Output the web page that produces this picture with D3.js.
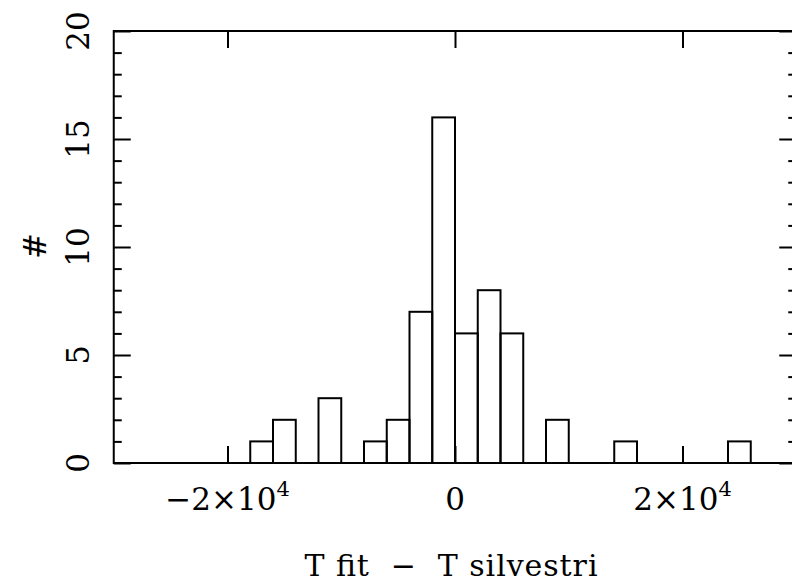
<!DOCTYPE html>
<html>
<head>
<meta charset="utf-8">
<script src="https://cdn.jsdelivr.net/npm/d3@7"></script>
<style>
  html, body { margin: 0; padding: 0; background: #fff; }
  svg { display: block; }
  text { font-family: "DejaVu Serif", "Liberation Serif", serif; fill: #000; }
  .axis path.domain { display: none; }
  .axis line { stroke: #000; stroke-width: 2; }
</style>
</head>
<body>
<script>
// Histogram of temperature differences (bin width 2000)
const binStarts = [-18000, -16000, -12000, -8000, -6000, -4000, -2000, 0, 2000, 4000, 8000, 14000, 24000];
const counts    = [1, 2, 3, 1, 2, 7, 16, 6, 8, 6, 2, 1, 1];
const binWidth = 2000;

const xMajorTicks = [-20000, 0, 20000];
const xTickLabels = [["\u22122\u00d710", "4"], ["0", null], ["2\u00d710", "4"]];
const yMajorTicks = [0, 5, 10, 15, 20];
const yMinorTicks = d3.range(0, 21).filter(v => v % 5 !== 0);

const W = 792, H = 583;
const svg = d3.select("body").append("svg").attr("width", W).attr("height", H);

const x = d3.scaleLinear().domain([-30000, 30000]).range([113.75, 796.25]);
const y = d3.scaleLinear().domain([0, 20]).range([463, 31]);

// bars
svg.append("g").selectAll("rect")
  .data(binStarts.map((s, i) => ({ s, c: counts[i] })))
  .join("rect")
  .attr("x", d => x(d.s))
  .attr("width", d => x(d.s + binWidth) - x(d.s))
  .attr("y", d => y(d.c))
  .attr("height", d => y(0) - y(d.c))
  .attr("fill", "none")
  .attr("stroke", "#000")
  .attr("stroke-width", 2);

// tick marks, all pointing inward
const [x0, x1] = x.range();
const [yb, yt] = y.range();
svg.append("g").attr("class", "axis").attr("transform", `translate(0,${yb})`)
  .call(d3.axisBottom(x).tickValues(xMajorTicks).tickSize(-17).tickFormat(""));
svg.append("g").attr("class", "axis").attr("transform", `translate(0,${yt})`)
  .call(d3.axisTop(x).tickValues(xMajorTicks).tickSize(-17).tickFormat(""));
svg.append("g").attr("class", "axis").attr("transform", `translate(${x0},0)`)
  .call(d3.axisLeft(y).tickValues(yMajorTicks).tickSize(-17).tickFormat(""));
svg.append("g").attr("class", "axis").attr("transform", `translate(${x0},0)`)
  .call(d3.axisLeft(y).tickValues(yMinorTicks).tickSize(-8).tickFormat(""));
svg.append("g").attr("class", "axis").attr("transform", `translate(${x1},0)`)
  .call(d3.axisRight(y).tickValues(yMajorTicks).tickSize(-17).tickFormat(""));
svg.append("g").attr("class", "axis").attr("transform", `translate(${x1},0)`)
  .call(d3.axisRight(y).tickValues(yMinorTicks).tickSize(-8).tickFormat(""));

// frame
svg.append("rect")
  .attr("x", x0).attr("y", yt)
  .attr("width", x1 - x0).attr("height", yb - yt)
  .attr("fill", "none").attr("stroke", "#000").attr("stroke-width", 2);

// x tick labels
xMajorTicks.forEach((v, i) => {
  const [base, sup] = xTickLabels[i];
  const t = svg.append("text")
    .attr("x", x(v)).attr("y", 510)
    .attr("text-anchor", "middle")
    .attr("font-size", 31);
  t.append("tspan").text(base);
  if (sup) {
    t.append("tspan").attr("font-size", 21).attr("dy", -14).text(sup);
  }
});

// y tick labels (rotated)
yMajorTicks.forEach(v => {
  svg.append("text")
    .attr("transform", `translate(89,${y(v)}) rotate(-90)`)
    .attr("text-anchor", "middle")
    .attr("font-size", 31)
    .text(v);
});

// axis titles
svg.append("text")
  .attr("transform", `translate(46,246) rotate(-90)`)
  .attr("text-anchor", "middle")
  .attr("font-size", 31)
  .text("#");

svg.append("text")
  .attr("x", 451).attr("y", 576)
  .attr("text-anchor", "middle")
  .attr("font-size", 30)
  .attr("xml:space", "preserve")
  .attr("textLength", 293)
  .attr("lengthAdjust", "spacing")
  .text("T fit  \u2212  T silvestri");
</script>
</body>
</html>
